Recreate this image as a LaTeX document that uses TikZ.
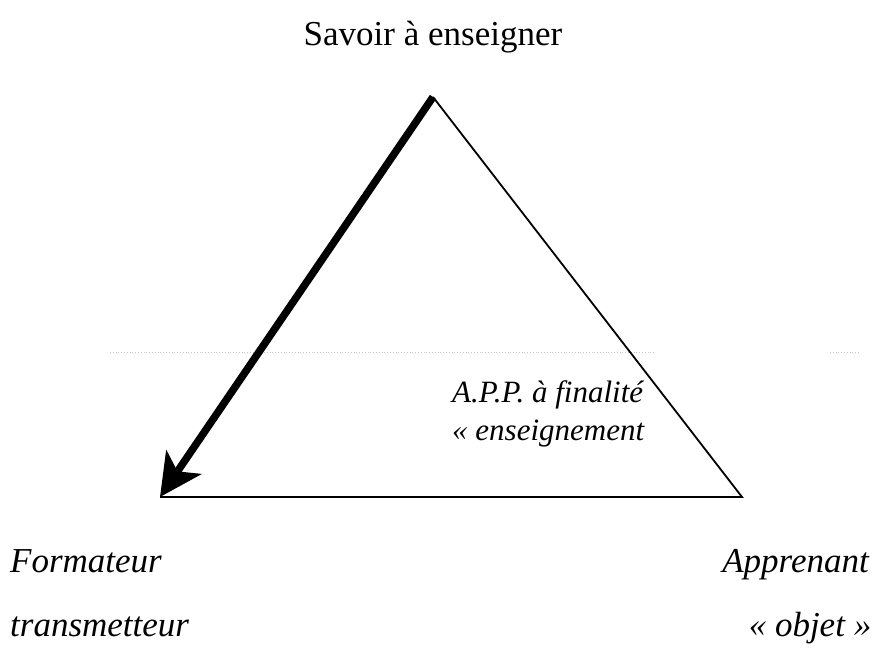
\documentclass[tikz,border=0pt]{standalone}
\usepackage{fontspec}
\setmainfont{Liberation Serif}
\usetikzlibrary{arrows.meta}
\begin{document}
\begin{tikzpicture}[x=1pt,y=-1pt,
  thinline/.style={line width=1.8pt, line join=miter},
  thickarrow/.style={line width=7.5pt, -{Stealth[length=42pt,width=42pt,inset=11pt]}},
  uplabel/.style={inner sep=0pt, font=\fontsize{35}{35}\selectfont},
  itlabel/.style={inner sep=0pt, font=\fontsize{35}{35}\selectfont\itshape},
  midlabel/.style={inner sep=0pt, font=\fontsize{31}{31}\selectfont\itshape},
  scanline/.style={gray!45, dotted, line width=0.8pt}]
\useasboundingbox (0,0) rectangle (883,650);
\fill[white] (0,0) rectangle (883,650);
\coordinate (S) at (433,97);
\coordinate (F) at (160,497);
\coordinate (A) at (742,497);
\coordinate (d1) at (110,352);
\coordinate (d2) at (655,352);
\coordinate (d3) at (830,352);
\coordinate (d4) at (860,352);
\draw[scanline] (d1) -- (d2);
\draw[scanline] (d3) -- (d4);
\draw[thinline] (F) -- (A) -- (S);
\draw[thickarrow] (S) -- (F);
\node[uplabel, anchor=base] (savoir) at (433,46) {Savoir à enseigner};
\node[midlabel, anchor=base west] (app1) at (452,402) {A.P.P. à finalité};
\node[midlabel, anchor=base west] (app2) at (452,440) {« enseignement};
\node[itlabel, anchor=base west] (form1) at (10,572) {Formateur};
\node[itlabel, anchor=base west] (form2) at (10,636) {transmetteur};
\node[itlabel, anchor=base east] (appr1) at (869,572) {Apprenant};
\node[itlabel, anchor=base] (appr2) at (810,636) {« objet »};
\end{tikzpicture}
\end{document}
